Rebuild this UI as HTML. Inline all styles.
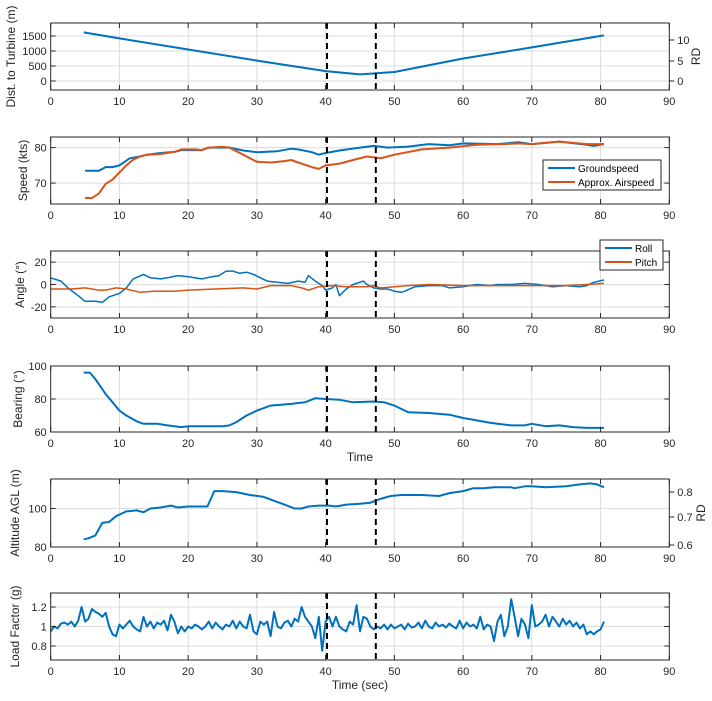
<!DOCTYPE html>
<html><head><meta charset="utf-8"><style>
body{margin:0;background:#fff;}
svg{display:block;font-family:"Liberation Sans",sans-serif;}
</style></head><body>
<svg id="fig" width="712" height="701"></svg>
<script>
const xTicks=[0,10,20,30,40,50,60,70,80,90];
const markers=[40.2,47.3];
const distT=[4.8,10,20,30,40,45,50,60,70,80.5];
const distV=[1620,1420,1050,680,330,220,300,750,1120,1520];
const gsT=[5,7,8,9,10,11.5,13,14,16,18,19,22,23,26,28,30,33,35,36,38,39,40,42,45,47,49,52,55,58,60,65,68,70,74,78,79,80.5];
const gsV=[73.5,73.5,74.5,74.5,75,77,77.5,78,78.5,78.8,79.3,79.3,80,80,79.2,78.7,79,79.7,79.5,78.7,78,78.5,79.2,80,80.5,80,80.3,81,80.7,81.2,81,81.5,81,81.7,80.8,80.5,81];
const asT=[5,6,7,8,9,10,11,12,13,14,16,18,19,21,22,23,25,26,28,30,32,34,35,36,38,39,40,42,44,46,48,50,54,58,62,66,68,70,74,78,80.5];
const asV=[65.8,65.8,67,69.8,71,73,75,76.6,77.5,78,78.2,78.8,79.5,79.5,79.3,80,80.2,80,78,76,75.8,76.2,76.5,75.8,74.5,74,75,75.5,76.5,77.5,77,78,79.5,80,80.8,81,81.2,81,81.7,81,81];
const rollT=[0,1.5,2.5,4,5,6.5,7.5,8.5,10,11,12,13.5,14.5,16,17,18.5,20,22,23.5,24.5,25.5,26.5,27.5,28.5,29.5,30.5,31.5,33,34.5,36,37,37.5,38.5,39.5,40,41,41.5,42,43,44,45.5,46,47,48,49,50,51,51.5,53,55,57,58,60,62,64,65,67,69,71,73,75,77,78,79,80.5];
const rollV=[6,3,-3,-10,-15,-15,-16,-11,-8,-3,5,9,6,5,6,8,7,5,7,8,12,12,10,11,9,6,3,2,1,3,2,8,3,-1,-5,-3,0,-10,-4,0,3,0,-3,-4,-4,-6,-7,-6,-2,-1,-1,-3,-2,0,-1,0,0,1,0,-2,-1,-2,-1,2,4];
const pitchT=[0,3,5,7,8,9.5,11,13,15,18,20,24,28,30,32,35,36.5,37.5,39,41,43,46,47,48,50,52,55,60,65,70,75,78,80.5];
const pitchV=[-4,-4,-3,-5,-5,-3,-4,-7,-6,-6,-5,-4,-3,-4,-1,-1,-3,-5,-2,-1,-2,-2,-1,-3,-2,-1,0,-1,-1,-1,-1,0,1];
const brgT=[4.8,5.7,6.5,8,9,10,11,12.5,13.5,15.5,17,19,20,25,26,27,28.5,30,32,35,37,38.5,40,42,44,47,48.5,50,52,55,58,60,62,64,65,67,69,70,72,74,76,78,80.5];
const brgV=[96,96,92,83,78,73,70,66.5,65,65,64,63,63.5,63.5,64,66,70,73,76,77,78,80.5,80,79.5,78,78.5,78,76,72,71.5,70.5,68.5,67,65.5,65,64,64,65,63.5,64,63,62.5,62.5];
const altT=[4.8,5.5,6.5,7.5,8.5,9.5,11,12.5,13.5,14.5,16,17.5,18.5,20,22,22.8,23.8,25,27,29,31,32.5,34,35.5,36.5,37.5,39,40.5,41.5,43,45,46.5,48,49.5,51,54,56.5,58,60,61.5,63,64.5,67,67.5,69,70,72,75,77,78.5,79.5,80.5];
const altV=[84,84.5,86,92.5,93,96,98.5,99,98,100,100.5,101.5,100.5,101,101,101,109,109,108.5,107,106,104,102,100,100,101,101.5,101.5,101,102,102.5,103,105,106.5,107,107,106.5,108,109,110.5,110.5,111,111,110.5,111.5,111.5,111,111.5,112.5,113,112.5,111];
const loadV=[0.95,1.0,0.98,1.03,1.04,1.02,1.05,1.0,1.06,1.2,
1.05,1.08,1.18,1.15,1.13,1.1,1.14,1.0,0.92,0.9,
1.02,0.98,1.02,1.06,1.0,0.97,0.95,1.1,1.0,1.05,
0.98,1.04,1.02,1.06,0.96,1.12,1.05,0.93,1.0,0.95,
1.0,0.98,1.02,1.0,0.97,1.0,1.05,0.98,1.04,1.0,
0.97,1.02,1.0,1.06,0.98,1.05,1.0,0.98,1.12,0.95,
0.92,1.05,1.02,1.05,0.9,1.15,1.0,0.98,1.04,1.06,
1.0,1.08,1.05,1.2,1.1,1.05,1.0,0.88,1.1,0.75,
1.05,1.1,1.0,1.1,1.0,0.97,0.95,1.05,1.02,1.22,
0.95,1.1,1.08,1.0,0.97,1.0,0.98,1.02,0.97,1.02,
0.98,1.0,1.02,0.97,1.03,0.99,1.0,1.04,0.98,1.06,
1.0,0.98,1.04,1.0,1.02,0.99,1.03,1.0,0.98,1.06,
0.98,1.04,1.0,1.02,0.98,1.1,0.97,1.02,1.0,0.85,
1.05,1.12,0.9,1.0,1.28,1.1,0.9,1.08,1.02,0.88,
1.22,1.0,1.02,1.05,1.12,1.0,1.1,1.05,1.0,1.08,
1.02,1.06,1.0,1.04,0.98,1.02,0.92,0.95,0.92,0.95,
0.97,1.05];
const loadStep=0.5;

const NS="http://www.w3.org/2000/svg";
const svg=document.getElementById('fig');
const X0=50.7,X1=669.3;
function sx(t){return X0+(t/90)*(X1-X0);}
function mk(tag,attrs,parent){const e=document.createElementNS(NS,tag);for(const k in attrs)e.setAttribute(k,attrs[k]);(parent||svg).appendChild(e);return e;}
const BLUE="#0072BD",ORANGE="#D95319";

function panel(p){
  const g=mk('g',{});
  
  
  const sy=v=>p.bot-(v-p.ymin)/(p.ymax-p.ymin)*(p.bot-p.top);
  xTicks.forEach(t=>{if(t>0&&t<90)mk('line',{x1:sx(t),x2:sx(t),y1:p.top,y2:p.bot,stroke:'#dcdcdc','stroke-width':1},g);});
  p.yt.forEach(v=>{mk('line',{x1:X0,x2:X1,y1:sy(v),y2:sy(v),stroke:'#dcdcdc','stroke-width':1},g);});
  p.series.forEach(s=>{
    const pts=s.t.map((t,i)=>sx(t).toFixed(1)+','+sy(s.v[i]).toFixed(1)).join(' ');
    const pl=mk('polyline',{points:pts,fill:'none',stroke:s.c,'stroke-width':s.w||2,'stroke-linejoin':'round'},g);
    
    
  });
  if(p.markers){markers.forEach((m,i)=>{
    const l=mk('line',{x1:sx(m),x2:sx(m),y1:p.top,y2:p.bot,stroke:'#000','stroke-width':2,'stroke-dasharray':'6,4'},g);
    
    
  });}
  mk('rect',{x:X0,y:p.top,width:X1-X0,height:p.bot-p.top,fill:'none',stroke:'#262626','stroke-width':1},g);
  xTicks.forEach(t=>{
    mk('line',{x1:sx(t),x2:sx(t),y1:p.bot,y2:p.bot-5,stroke:'#262626'},g);
    mk('line',{x1:sx(t),x2:sx(t),y1:p.top,y2:p.top+5,stroke:'#262626'},g);
    const tx=mk('text',{x:sx(t),y:p.bot+15,'font-size':11,'text-anchor':'middle',fill:'#262626'},g);tx.textContent=t;
  });
  p.yt.forEach((v,i)=>{
    mk('line',{x1:X0,x2:X0+5,y1:sy(v),y2:sy(v),stroke:'#262626'},g);
    if(!p.ryt)mk('line',{x1:X1,x2:X1-5,y1:sy(v),y2:sy(v),stroke:'#262626'},g);
    const tx=mk('text',{x:X0-4,y:sy(v)+4,'font-size':11,'text-anchor':'end',fill:'#262626'},g);tx.textContent=p.ytl[i];
  });
  const yl=mk('text',{x:0,y:0,'font-size':12,'text-anchor':'middle',fill:'#262626',transform:`translate(${p.ylx},${(p.top+p.bot)/2}) rotate(-90)`},g);
  yl.textContent=p.ylabel;
  
  
  if(p.ryt){
    p.ryt.forEach(r=>{
      mk('line',{x1:X1,x2:X1+5,y1:r[0],y2:r[0],stroke:'#262626'},g);
      const tx=mk('text',{x:X1+8,y:r[0]+4,'font-size':11,fill:'#262626'},g);tx.textContent=r[1];
    });
    const rl=mk('text',{x:0,y:0,'font-size':12,'text-anchor':'middle',fill:'#262626',transform:`translate(${p.rlx},${(p.top+p.bot)/2}) rotate(-90)`},g);
    rl.textContent='RD';
  }
  if(p.xlabel){const xl=mk('text',{x:(X0+X1)/2,y:p.bot+29,'font-size':12,'text-anchor':'middle',fill:'#262626'},g);xl.textContent=p.xlabel;}
  return g;
}
function legend(x,y,w,items){
  const g=mk('g',{});
  
  
  mk('rect',{x:x,y:y,width:w,height:items.length*14+2,fill:'#fff',stroke:'#262626'},g);
  items.forEach((it,i)=>{
    const cy=y+8+i*14;
    mk('line',{x1:x+5,x2:x+32,y1:cy,y2:cy,stroke:it[1],'stroke-width':2},g);
    const t=mk('text',{x:x+35,y:cy+4,'font-size':10,fill:'#000'},g);t.textContent=it[0];
  });
}
const loadT=loadV.map((v,i)=>i*loadStep);

panel({name:'distance-panel',top:23,bot:90,ymin:-300,ymax:1933,yt:[0,500,1000,1500],ytl:['0','500','1000','1500'],ylabel:'Dist. to Turbine (m)',ylx:15,markers:true,
  series:[{t:distT,v:distV,c:BLUE,name:'distance-line'}],ryt:[[81,'0'],[61,'5'],[40,'10']],rlx:700});
panel({name:'speed-panel',top:137,bot:204,ymin:64.1,ymax:83,yt:[70,80],ytl:['70','80'],ylabel:'Speed (kts)',ylx:27,markers:true,
  series:[{t:gsT,v:gsV,c:BLUE,name:'groundspeed-line'},{t:asT,v:asV,c:ORANGE,name:'airspeed-line'}]});
legend(543,160,118,[['Groundspeed',BLUE],['Approx. Airspeed',ORANGE]]);
panel({name:'angle-panel',top:251,bot:318,ymin:-30,ymax:30,yt:[-20,0,20],ytl:['-20','0','20'],ylabel:'Angle (°)',ylx:24,markers:true,
  series:[{t:rollT,v:rollV,c:BLUE,w:1.5,name:'roll-line'},{t:pitchT,v:pitchV,c:ORANGE,w:1.5,name:'pitch-line'}]});
legend(600,240,63,[['Roll',BLUE],['Pitch',ORANGE]]);
panel({name:'bearing-panel',top:366,bot:432,ymin:60,ymax:100,yt:[60,80,100],ytl:['60','80','100'],ylabel:'Bearing (°)',ylx:22,markers:true,xlabel:'Time',
  series:[{t:brgT,v:brgV,c:BLUE,name:'bearing-line'}]});
panel({name:'altitude-panel',top:479,bot:547,ymin:80,ymax:115.3,yt:[80,100],ytl:['80','100'],ylabel:'Altitude AGL (m)',ylx:19,markers:true,
  series:[{t:altT,v:altV,c:BLUE,name:'altitude-line'}],ryt:[[545,'0.6'],[517,'0.7'],[492,'0.8']],rlx:705});
panel({name:'load-factor-panel',top:593,bot:660,ymin:0.656,ymax:1.344,yt:[0.8,1,1.2],ytl:['0.8','1','1.2'],ylabel:'Load Factor (g)',ylx:19,markers:true,xlabel:'Time (sec)',
  series:[{t:loadT,v:loadV,c:BLUE,w:2,name:'load-factor-line'}]});
</script>
</body></html>
